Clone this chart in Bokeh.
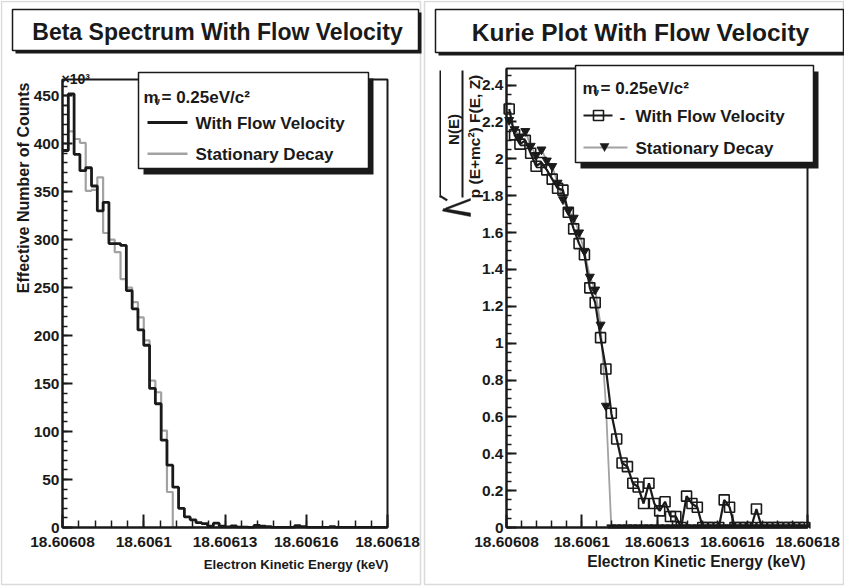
import numpy as np
from bokeh.plotting import figure
from bokeh.models import Range1d, FixedTicker, LinearAxis, Label, BoxAnnotation, PolyAnnotation
from bokeh.layouts import row
from bokeh.embed import file_html
from bokeh.resources import INLINE

FONT = "Liberation Sans"
INK = "#1a1a1a"
GREY = "#a2a2a2"

# ---------------- data ----------------
energy_start_kev = 18.60608
energy_end_kev = 18.60618
n_bins = 56
x_tick_values = [18.60608, 18.606105, 18.60613, 18.606155, 18.60618]
x_tick_labels = ["18.60608", "18.6061", "18.60613", "18.60616", "18.60618"]

# effective number of counts per bin (x10^3)
counts_flow = [393, 452, 389, 372, 375, 356, 330, 339, 296, 296, 294, 247, 228, 206,
               190, 145, 129, 91, 65, 42, 20, 11, 8, 5, 4, 1.5, 4.5, 1.5, 0.7, 1.6,
               0.4, 0.4, 0, 2.3, 1.4, 1.0, 0, 0, 0, 0, 1.8, 1.0, 0, 0, 0, 0, 0.8,
               0, 0, 0, 0, 0, 0, 0, 0, 0]
counts_stationary = [440, 413, 405, 401, 351, 352, 365, 307, 300, 287, 259, 250, 235,
                     219, 195, 153, 141, 101, 37] + [0] * 37

# Kurie function per bin
kurie_flow = [2.27, 2.13, 2.08, 2.10, 2.03, 1.96, 1.98, 1.94, 1.89, 1.84, 1.83, 1.71,
              1.62, 1.54, 1.48, 1.30, 1.22, 1.03, 0.86, 0.62, 0.48, 0.35, 0.33, 0.24,
              0.22, 0.13, 0.24, 0.13, 0.09, 0.14, 0.06, 0.06, 0, 0.17, 0.13, 0.11,
              0, 0, 0, 0, 0.15, 0.11, 0, 0, 0, 0, 0.10, 0, 0, 0, 0, 0, 0, 0, 0, 0]
kurie_stationary = [2.21, 2.16, 2.12, 2.15, 2.07, 2.02, 2.05, 1.99, 1.96, 1.87, 1.78,
                    1.72, 1.68, 1.60, 1.50, 1.36, 1.29, 1.10, 0.66] + [0] * 37

count_tick_values = [0, 50, 100, 150, 200, 250, 300, 350, 400, 450]
count_axis_max = 467
kurie_tick_values = [0, 0.2, 0.4, 0.6, 0.8, 1, 1.2, 1.4, 1.6, 1.8, 2, 2.2, 2.4]
kurie_tick_labels = ["0", "0.2", "0.4", "0.6", "0.8", "1", "1.2", "1.4", "1.6",
                     "1.8", "2", "2.2", "2.4"]
kurie_axis_max = 2.49

left_title = "Beta Spectrum With Flow Velocity"
right_title = "Kurie Plot With Flow Velocity"
legend_header = "= 0.25eV/c\u00b2"
legend_flow = "With Flow Velocity"
legend_stationary = "Stationary Decay"
x_title = "Electron Kinetic Energy (keV)"
y_title_left = "Effective Number of Counts"

# ---------------- derived ----------------
edges = energy_start_kev + (energy_end_kev - energy_start_kev) * np.arange(n_bins + 1) / n_bins
centers = 0.5 * (edges[:-1] + edges[1:])
x_minor = [energy_start_kev + i * 5e-6 for i in range(21)]

W, H = 422, 588


def label(p, x, y, text, size, align="left", baseline="middle", angle=0.0, color=INK):
    p.add_layout(Label(x=x, y=y, x_units="canvas", y_units="canvas", text=text,
                       text_font=FONT, text_font_style="bold", text_font_size=f"{size}px",
                       text_color=color, text_align=align, text_baseline=baseline,
                       angle=angle))


def rect(p, x0, y0, x1, y1, fill=None, line=None, lw=1.0):
    p.add_layout(BoxAnnotation(left=x0, right=x1, top=y0, bottom=y1,
                               left_units="canvas", right_units="canvas",
                               top_units="canvas", bottom_units="canvas",
                               fill_color=fill if fill else "white",
                               fill_alpha=1.0 if fill else 0.0,
                               line_color=line if line else "white",
                               line_alpha=1.0 if line else 0.0, line_width=lw))


def poly(p, pts, fill):
    p.add_layout(PolyAnnotation(xs=[q[0] for q in pts], ys=[q[1] for q in pts],
                                xs_units="canvas", ys_units="canvas",
                                fill_color=fill, fill_alpha=1.0, line_color=fill,
                                line_alpha=1.0, line_width=0.5))


def style_axis(ax, tick_in, minor_in, size, standoff):
    ax.level = "overlay"
    ax.axis_line_width = 2
    ax.axis_line_color = INK
    ax.major_tick_in = tick_in
    ax.major_tick_out = 0
    ax.minor_tick_in = minor_in
    ax.minor_tick_out = 0
    ax.major_tick_line_width = 2
    ax.minor_tick_line_width = 1.5
    ax.major_tick_line_color = INK
    ax.minor_tick_line_color = INK
    ax.major_label_text_font = FONT
    ax.major_label_text_font_style = "bold"
    ax.major_label_text_font_size = f"{size}px"
    ax.major_label_text_color = INK
    ax.major_label_standoff = standoff


def make_fig(box, ymax, y_ticks, y_minor, y_overrides):
    """box = (left, top, right, bottom) pixel rectangle of the data frame."""
    L, T, R, B = box
    sx = (R - L) / (energy_end_kev - energy_start_kev)
    sy = (B - T) / ymax
    xr = Range1d(energy_start_kev - L / sx, energy_start_kev + (W - L) / sx)
    yr = Range1d(-(H - B) / sy, ymax + T / sy)
    p = figure(width=W, height=H, output_backend="svg", toolbar_location=None,
               x_range=xr, y_range=yr, min_border=0,
               x_axis_type=None, y_axis_type=None)
    p.outline_line_color = None
    p.background_fill_color = "white"
    p.border_fill_color = "white"

    xa = LinearAxis(ticker=FixedTicker(ticks=x_tick_values, minor_ticks=x_minor),
                    fixed_location=0, bounds=(energy_start_kev, energy_end_kev))
    xa.major_label_overrides = dict(zip(x_tick_values, x_tick_labels))
    style_axis(xa, 13, 7, 15.5, 9)
    p.add_layout(xa, "below")

    ya = LinearAxis(ticker=FixedTicker(ticks=y_ticks, minor_ticks=y_minor),
                    fixed_location=energy_start_kev, bounds=(0, ymax))
    if y_overrides:
        ya.major_label_overrides = y_overrides
    style_axis(ya, 10, 5, 15.5, 3)
    p.add_layout(ya, "left")
    return p


def frame_box(p, box, ymax):
    L, T, R, B = box
    # hide marker parts falling outside the data frame (as the frame clips them)
    rect(p, L - 12, B + 1, R + 12, B + 12, fill="white")
    p.add_layout(BoxAnnotation(left=energy_start_kev, right=energy_end_kev, bottom=0,
                               top=ymax, fill_alpha=0.0, line_color=INK,
                               line_alpha=1.0, line_width=2))


# ================= left panel =================
box1 = (62, 79, 387, 527)
p1 = make_fig(box1, count_axis_max, count_tick_values, list(range(0, 470, 10)), None)

p1.step(x=edges, y=counts_stationary + [counts_stationary[-1]], mode="after",
        line_color=GREY, line_width=2.2)
p1.step(x=edges, y=counts_flow + [counts_flow[-1]], mode="after",
        line_color=INK, line_width=2.8)

frame_box(p1, box1, count_axis_max)
# pad border
rect(p1, 1, 1, 420, 584, line="#dadada", lw=1.5)
# title box
rect(p1, 15, 12, 421, 53, fill=INK)
rect(p1, 12, 9, 418, 50, fill="white", line=INK, lw=1.5)
label(p1, 217, 31, left_title, 23, align="center")
# multiplier
label(p1, 61, 78, "\u00d710\u00b3", 14, baseline="alphabetic")
# axis titles
label(p1, 23, 82, y_title_left, 16, align="right", angle=np.pi / 2)
label(p1, 388, 564, x_title, 13.2, align="right")
# legend
rect(p1, 143, 78, 373, 174, fill=INK)
rect(p1, 138, 72, 368, 168, fill="white", line=INK, lw=1.5)
label(p1, 143, 97, "m", 17, baseline="alphabetic")
label(p1, 154, 101, "\u03bd", 10, baseline="alphabetic")
label(p1, 161, 97, legend_header, 17, baseline="alphabetic")
rect(p1, 147, 120.5, 187, 123.5, fill=INK)
label(p1, 195, 123, legend_flow, 17)
rect(p1, 147, 152, 187, 154.5, fill=GREY)
label(p1, 195, 154, legend_stationary, 17)

# ================= right panel =================
box2 = (84, 68, 385, 527)
p2 = make_fig(box2, kurie_axis_max, kurie_tick_values, [i * 0.05 for i in range(50)],
              dict(zip(kurie_tick_values, kurie_tick_labels)))

p2.line(centers, kurie_stationary, line_color=GREY, line_width=1.8)
p2.line(centers, kurie_flow, line_color=INK, line_width=2.2)
p2.scatter(centers, kurie_flow, marker="square", size=10, fill_alpha=0.0,
           line_color=INK, line_width=1.6)
p2.scatter(centers, kurie_stationary, marker="inverted_triangle", size=9,
           fill_color=INK, line_color=INK)

frame_box(p2, box2, kurie_axis_max)
rect(p2, 2, 1, 421, 584, line="#dadada", lw=1.5)
# title box
rect(p2, 16, 12, 424, 55, fill=INK)
rect(p2, 13, 9, 421, 52, fill="white", line=INK, lw=1.5)
label(p2, 218, 32, right_title, 24.5, align="center")
# y title: sqrt( N(E) / (p (E+mc^2) F(E,Z)) )
rect(p2, 17, 70, 18.5, 197, fill=INK)
poly(p2, [(17, 196), (18.5, 195), (25, 199), (24, 200.5)], INK)
poly(p2, [(48, 198), (48, 200), (23, 209.5), (23, 207.5)], INK)
poly(p2, [(21, 208), (48, 212.5), (48, 216), (20, 210.5)], INK)
label(p2, 31, 129, "N(E)", 15, align="center", angle=np.pi / 2)
rect(p2, 39, 70, 41, 197, fill=INK)
label(p2, 52, 136, "p (E+mc\u00b2) F(E, Z)", 15.5, align="center", angle=np.pi / 2)
# x title
label(p2, 383, 561, x_title, 15.6, align="right")
# legend
rect(p2, 158, 71, 396, 168, fill=INK)
rect(p2, 153, 65, 391, 162, fill="white", line=INK, lw=1.5)
label(p2, 160, 88, "m", 17, baseline="alphabetic")
label(p2, 171, 92, "\u03bd", 10, baseline="alphabetic")
label(p2, 178, 88, legend_header, 17, baseline="alphabetic")
rect(p2, 161, 114, 190, 116, fill=INK)
rect(p2, 171, 110, 181, 120, line=INK, lw=1.6)
label(p2, 197, 116, "-", 17)
label(p2, 213, 116, legend_flow, 17)
rect(p2, 161, 146, 205, 148, fill=GREY)
poly(p2, [(177.5, 143), (186.5, 143), (182, 151)], INK)
label(p2, 213, 148, legend_stationary, 17)

layout = row(p1, p2)
open("out.html", "w").write(file_html(layout, INLINE, "Beta spectrum and Kurie plot"))
